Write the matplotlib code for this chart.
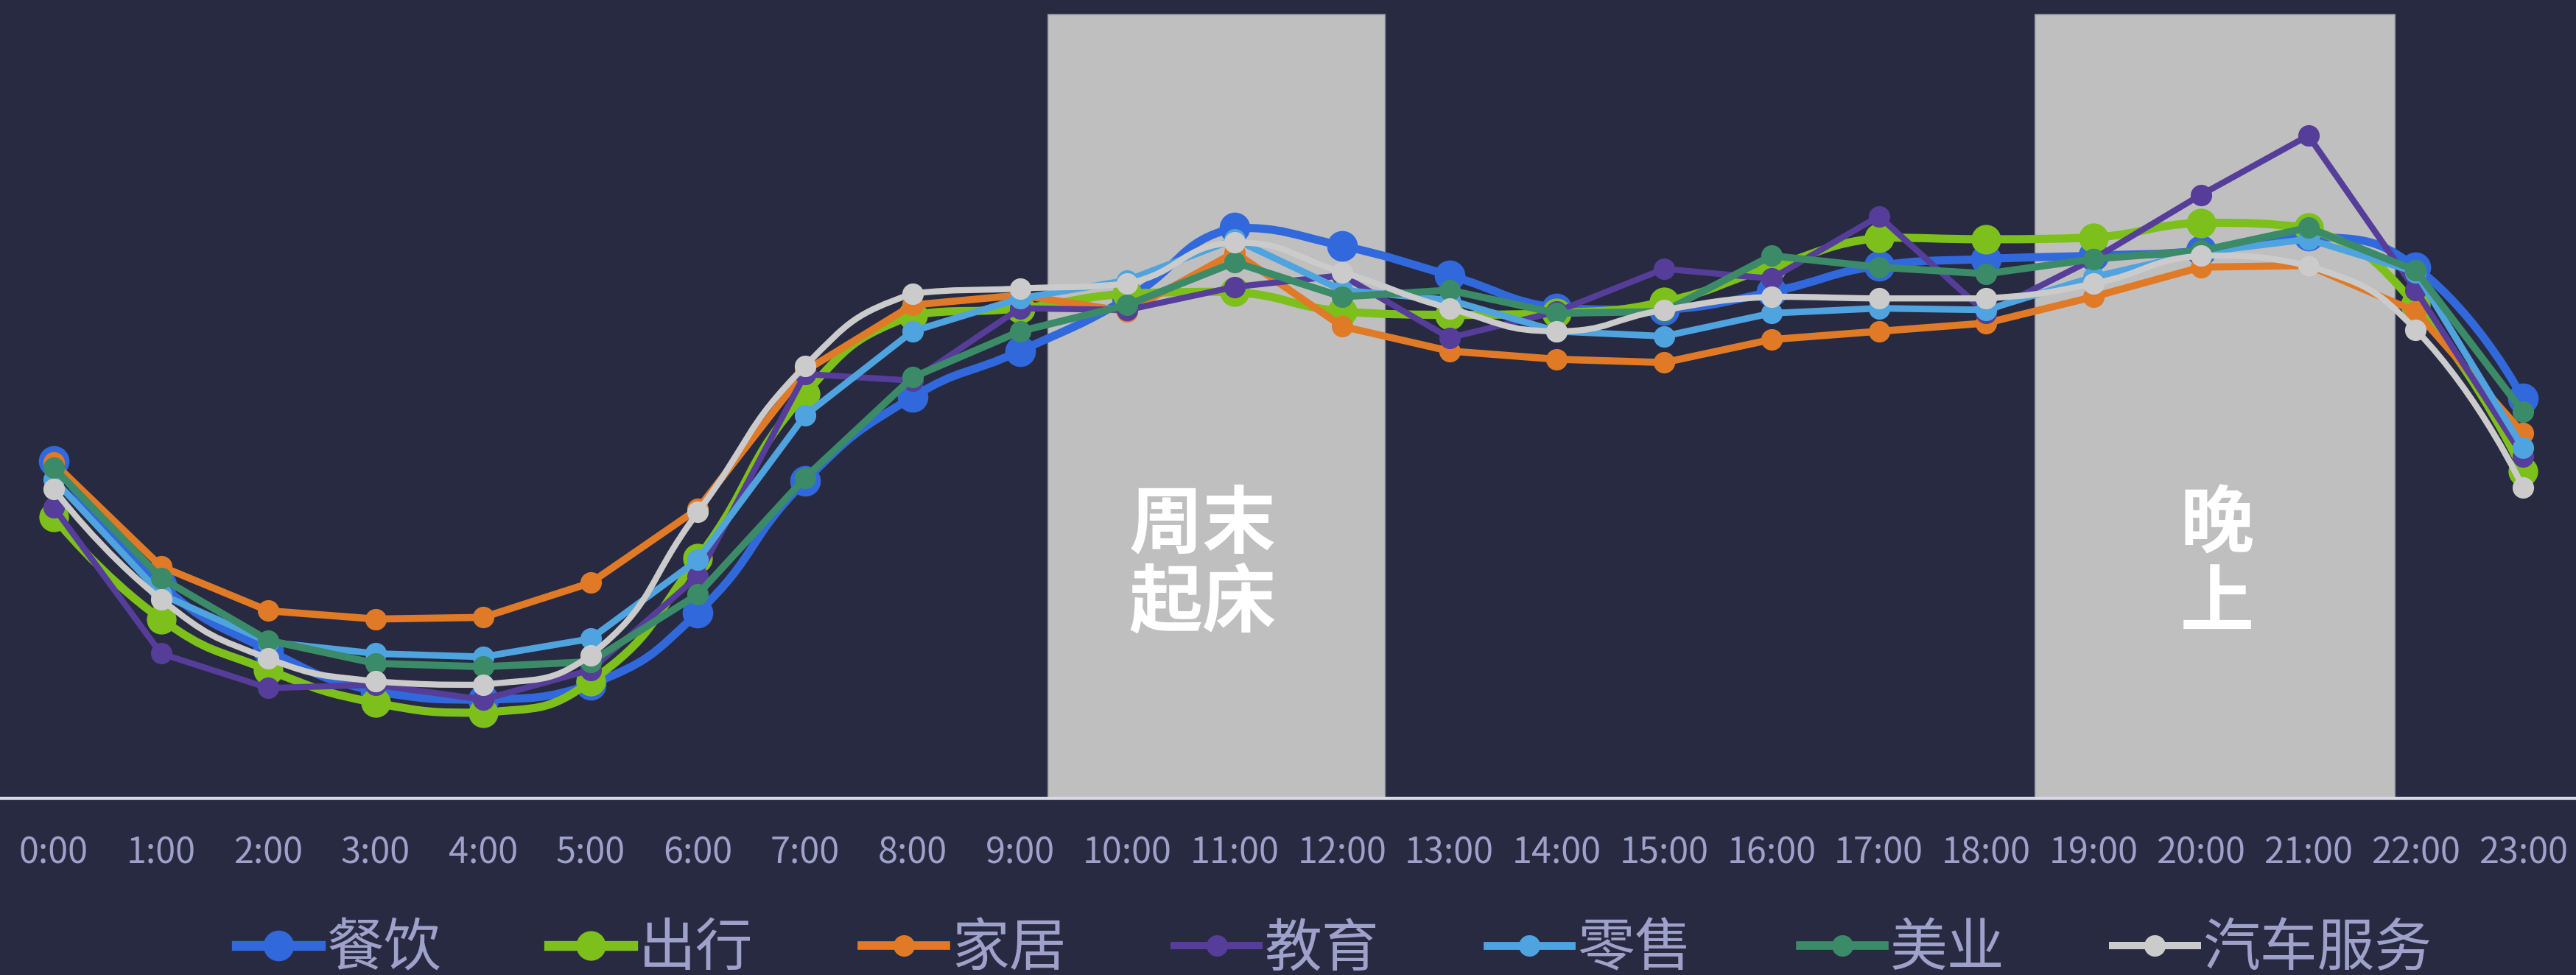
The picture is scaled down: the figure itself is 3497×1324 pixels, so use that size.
import numpy as np
import matplotlib
matplotlib.use('Agg')
import matplotlib.pyplot as plt
from matplotlib.path import Path
from matplotlib.patches import PathPatch
from matplotlib.lines import Line2D

plt.rcParams['font.family'] = ['Noto Sans CJK SC', 'DejaVu Sans']

# hours on the x axis
hours = ['%d:00' % h for h in range(24)]

# activity index per hour (no y scale shown in the source, read as relative height)
canyin = [205, 130, 90, 65, 60, 69, 113, 193, 244, 272, 304, 347,
          336, 318, 298, 297, 308, 324, 328, 330, 333, 342, 323, 243]
chuxing = [171, 109, 78, 58, 52, 71, 146, 246, 294, 298, 307, 308,
           296, 294, 295, 302, 323, 341, 340, 341, 350, 347, 300, 199]
jiaju = [204, 141, 114, 109, 110, 131, 176, 260, 300, 306, 296, 332,
         287, 272, 267, 265, 279, 284, 289, 305, 323, 324, 296, 222]
jiaoyu = [177, 88, 67, 69, 60, 78, 135, 258, 254, 298, 297, 311,
          318, 280, 296, 322, 316, 354, 295, 328, 367, 403, 309, 208]
lingshou = [194, 124, 95, 88, 86, 97, 145, 233, 284, 304, 315, 340,
            309, 303, 284, 281, 295, 298, 297, 317, 332, 340, 320, 213]
meiye = [201, 134, 96, 82, 80, 83, 124, 195, 256, 284, 300, 326,
         305, 309, 295, 296, 330, 323, 319, 328, 333, 347, 321, 235]
qiche = [188, 121, 85, 71, 69, 87, 174, 263, 307, 310, 313, 338,
         320, 298, 284, 297, 305, 304, 304, 313, 330, 324, 285, 189]

names = ['餐饮', '出行', '家居', '教育', '零售', '美业', '汽车服务']
series = [canyin, chuxing, jiaju, jiaoyu, lingshou, meiye, qiche]
colors = ['#3168dc', '#7dbf1b', '#e07a26', '#553d99', '#4fa3df', '#3b8a68', '#cbcbcb']
smooth = [True, True, False, False, False, False, True]
line_w = [8, 8, 7, 6, 6.5, 7, 6]
marker_s = [30, 29, 21, 21, 21, 21, 21]

# shaded periods (in hour positions) and their labels
band_x0 = [9.254, 18.447]
band_x1 = [12.40, 21.805]
band_top = 477
band_text = ['周末\n起床', '晚\n上']
band_text_x = [10.70, 20.15]
band_text_y = [142, 142]

bg = '#272a40'
txt_color = '#9ea1c9'


def clamp(v, a, b):
    return min(max(v, min(a, b)), max(a, b))


def smooth_path(xs, ys, k=0.5, sx=65.3):
    # echarts-like smooth curve, control points kept inside each segment's box
    n = len(xs)
    vs, rs = [], []
    for i in range(n):
        if i == 0 or i == n - 1:
            vs.append((0.0, 0.0))
            rs.append(0.5)
            continue
        d0 = np.hypot((xs[i] - xs[i - 1]) * sx, ys[i] - ys[i - 1])
        d1 = np.hypot((xs[i + 1] - xs[i]) * sx, ys[i + 1] - ys[i])
        vs.append((xs[i + 1] - xs[i - 1], ys[i + 1] - ys[i - 1]))
        rs.append(d1 / (d0 + d1))
    verts = [(xs[0], ys[0])]
    codes = [Path.MOVETO]
    for i in range(n - 1):
        c0x = xs[i] + vs[i][0] * k * rs[i]
        c0y = clamp(ys[i] + vs[i][1] * k * rs[i], ys[i], ys[i + 1])
        c1x = xs[i + 1] - vs[i + 1][0] * k * (1 - rs[i + 1])
        c1y = clamp(ys[i + 1] - vs[i + 1][1] * k * (1 - rs[i + 1]), ys[i], ys[i + 1])
        verts += [(c0x, c0y), (c1x, c1y), (xs[i + 1], ys[i + 1])]
        codes += [Path.CURVE4] * 3
    return Path(verts, codes)


fig = plt.figure(figsize=(34.98, 13.24), dpi=100, facecolor=bg)
ax = fig.add_axes([0, 0.1813, 1, 0.8187])
ax.set_facecolor(bg)
ax.set_xlim(-0.5, 23.5)
ax.set_ylim(0, 485.5)

for x0, x1 in zip(band_x0, band_x1):
    ax.axvspan(x0, x1, ymin=0, ymax=band_top / 485.5, facecolor='#bfbfbf',
               edgecolor='#85879a', linewidth=1, zorder=0.5)
for t, tx, ty in zip(band_text, band_text_x, band_text_y):
    ax.text(tx, ty, t, color='white', fontsize=72, fontweight='bold',
            ha='center', va='center', linespacing=1.05, zorder=1)

x = np.arange(24)
handles = []
for vals, name, c, sm, lw, ms in zip(series, names, colors, smooth, line_w, marker_s):
    if sm:
        ax.add_patch(PathPatch(smooth_path(x, vals), facecolor='none', edgecolor=c,
                               linewidth=lw, zorder=3, capstyle='round', joinstyle='round'))
    else:
        ax.plot(x, vals, color=c, linewidth=lw, zorder=3, solid_joinstyle='round')
    ax.plot(x, vals, linestyle='none', marker='o', markersize=ms, color=c,
            markeredgewidth=0, zorder=3)
    handles.append(Line2D([], [], color=c, linewidth=lw * 1.2, marker='o',
                          markersize=ms, markeredgewidth=0, label=name))

ax.set_xticks(x)
ax.set_xticklabels(hours, fontsize=35, color=txt_color)
ax.tick_params(axis='x', length=0, pad=36)
ax.set_yticks([])
for side in ['top', 'left', 'right']:
    ax.spines[side].set_visible(False)
ax.spines['bottom'].set_color('#d8d9e4')
ax.spines['bottom'].set_linewidth(3)
ax.spines['bottom'].set_zorder(4)

leg = fig.legend(handles=handles, loc='center', bbox_to_anchor=(0.5177, 0.026), ncol=7,
                 frameon=False, fontsize=56, handlelength=1.47, handletextpad=0.1,
                 columnspacing=1.89, numpoints=1, borderaxespad=0, borderpad=0)
for t in leg.get_texts():
    t.set_color(txt_color)

fig.savefig('out.png', dpi=100, facecolor=bg)
